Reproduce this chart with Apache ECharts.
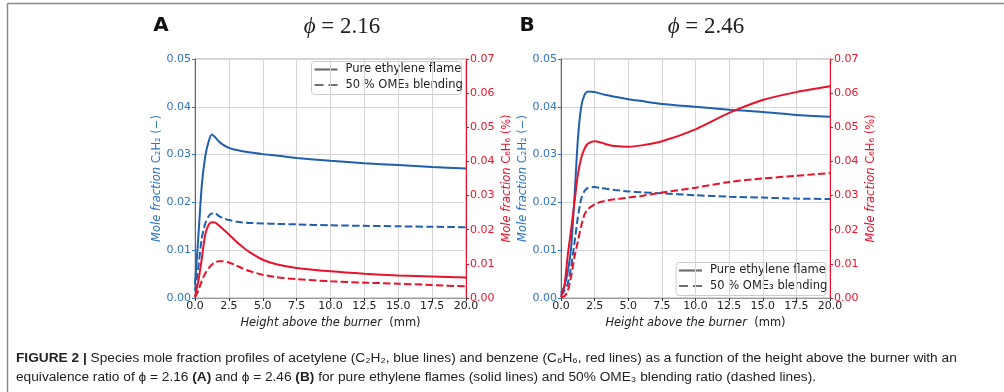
<!DOCTYPE html>
<html>
<head>
<meta charset="utf-8">
<script src="https://cdn.jsdelivr.net/npm/echarts@6/dist/echarts.min.js"></script>
<style>
  html, body { margin: 0; padding: 0; background: #fff; }
  #chart { width: 1004px; height: 392px; }
</style>
</head>
<body>
<div id="chart"></div>
<script>
// Height above the burner (mm), sample positions shared by all profiles
const heights = [0, 0.25, 0.5, 0.75, 1, 1.25, 1.5, 1.75, 2, 2.5, 3, 3.5, 4, 5, 6, 7.5, 10, 12.5, 15, 17.5, 20];

// Panel A, phi = 2.16
const c2h2PureA  = [0.0028, 0.013, 0.0235, 0.0295, 0.0327, 0.0342, 0.0336, 0.0328, 0.0322, 0.0314, 0.0310, 0.0307, 0.0305, 0.0301, 0.0298, 0.0293, 0.0287, 0.0282, 0.0278, 0.0274, 0.0271];
const c2h2BlendA = [0.0015, 0.0065, 0.0125, 0.0155, 0.0171, 0.0177, 0.0177, 0.0172, 0.0168, 0.0163, 0.0160, 0.0158, 0.0157, 0.0156, 0.0155, 0.0154, 0.0152, 0.0151, 0.0150, 0.0149, 0.0148];
const c6h6PureA  = [0.0003, 0.005, 0.0115, 0.0185, 0.0214, 0.0222, 0.0221, 0.0213, 0.0204, 0.0186, 0.0167, 0.0150, 0.0135, 0.0112, 0.0099, 0.0088, 0.0078, 0.0071, 0.0066, 0.0063, 0.0060];
const c6h6BlendA = [0.0002, 0.0022, 0.005, 0.0072, 0.0087, 0.0098, 0.0105, 0.0108, 0.0108, 0.0104, 0.0096, 0.0087, 0.0079, 0.0068, 0.0061, 0.0055, 0.0049, 0.0045, 0.0042, 0.0038, 0.0034];

// Panel B, phi = 2.46
const c2h2PureB  = [0.001, 0.0025, 0.0055, 0.0105, 0.021, 0.033, 0.040, 0.0425, 0.0432, 0.0431, 0.0427, 0.0424, 0.0421, 0.0416, 0.0412, 0.0406, 0.0400, 0.0394, 0.0389, 0.0383, 0.0379];
const c2h2BlendB = [0.0005, 0.0015, 0.003, 0.0065, 0.0115, 0.0168, 0.0207, 0.0224, 0.0230, 0.0232, 0.0230, 0.0228, 0.0226, 0.0223, 0.0221, 0.0219, 0.0215, 0.0212, 0.0210, 0.0208, 0.0207];
const c6h6PureB  = [0.0003, 0.0035, 0.0125, 0.020, 0.028, 0.036, 0.041, 0.0437, 0.0452, 0.0459, 0.0455, 0.0449, 0.0445, 0.0443, 0.0447, 0.0459, 0.0494, 0.0542, 0.0580, 0.0603, 0.0620];
const c6h6BlendB = [0.0002, 0.0005, 0.002, 0.0063, 0.012, 0.0165, 0.021, 0.0245, 0.026, 0.0274, 0.0282, 0.0286, 0.0289, 0.0294, 0.0299, 0.0309, 0.0323, 0.0340, 0.0350, 0.0358, 0.0366];

const legendNames = ['Pure ethylene flame', '50 % OME\u2083 blending'];

const BLUE = '#1f5fae';
const BLUE_TXT = '#2f74c0';
const RED = '#e8132b';
const GRIDC = '#d6d6d6';
const SANS = 'DejaVu Sans';
const DASH = [7.4, 3.2];
const CAPTION_FONT = '"Liberation Sans", Arial, sans-serif';

const pairs = ys => heights.map((h, i) => [h, ys[i]]);

function xAxisFor(grid) {
  return {
    type: 'value', gridIndex: grid, min: 0, max: 20, interval: 2.5,
    name: '{i|Height above the burner}  (mm)',
    nameLocation: 'middle', nameGap: 13,
    nameTextStyle: { fontFamily: SANS, fontSize: 11.5, color: '#222',
      rich: { i: { fontFamily: SANS, fontSize: 11.5, fontStyle: 'italic', color: '#222' } } },
    axisLine: { show: true, lineStyle: { color: '#999' } },
    axisTick: { show: true, length: 3, lineStyle: { color: '#333' } },
    axisLabel: { fontFamily: SANS, fontSize: 11, color: '#222', margin: 3,
      formatter: v => v.toFixed(1) },
    splitLine: { show: true, lineStyle: { color: GRIDC, width: 1 } }
  };
}
function leftAxis(grid) {
  return {
    type: 'value', gridIndex: grid, position: 'left', min: 0, max: 0.05, interval: 0.01,
    name: '{i|Mole fraction} C\u2082H\u2082 (\u2212)',
    nameLocation: 'middle', nameRotate: 90, nameGap: 25,
    nameTextStyle: { fontFamily: SANS, fontSize: 11.5, color: BLUE_TXT,
      rich: { i: { fontFamily: SANS, fontSize: 11.5, fontStyle: 'italic', color: BLUE_TXT } } },
    axisLine: { show: true, lineStyle: { color: BLUE_TXT } },
    axisTick: { show: true, length: 3, lineStyle: { color: BLUE_TXT } },
    axisLabel: { fontFamily: SANS, fontSize: 11, color: BLUE_TXT, margin: 4,
      formatter: v => v.toFixed(2) },
    splitLine: { show: true, lineStyle: { color: GRIDC, width: 1 } }
  };
}
function rightAxis(grid) {
  return {
    type: 'value', gridIndex: grid, position: 'right', min: 0, max: 0.07, interval: 0.01,
    name: '{i|Mole fraction} C\u2086H\u2086 (%)',
    nameLocation: 'middle', nameRotate: 90, nameGap: 35,
    nameTextStyle: { fontFamily: SANS, fontSize: 11.5, color: RED,
      rich: { i: { fontFamily: SANS, fontSize: 11.5, fontStyle: 'italic', color: RED } } },
    axisLine: { show: true, lineStyle: { color: RED } },
    axisTick: { show: true, length: 3, lineStyle: { color: RED } },
    axisLabel: { fontFamily: SANS, fontSize: 11, color: RED, margin: 4,
      formatter: v => v.toFixed(2) },
    splitLine: { show: false }
  };
}
function profile(name, ys, color, dashed, xi, yi) {
  return {
    type: 'line', name: name, data: pairs(ys), xAxisIndex: xi, yAxisIndex: yi,
    showSymbol: false, symbol: 'none', smooth: 0.25,
    lineStyle: { color: color, width: 2, type: dashed ? DASH : 'solid' },
    itemStyle: { color: color }, z: 3, silent: true
  };
}
// line-style key drawn as a boxed group
function legendGroup(left, top) {
  const w = 150, h = 33;
  return {
    type: 'group', x: left, y: top, z: 10, silent: true,
    children: [
      { type: 'rect', shape: { x: 0, y: 0, width: w, height: h, r: 3 },
        style: { fill: 'rgba(255,255,255,0.85)', stroke: '#cccccc', lineWidth: 1 } },
      { type: 'line', shape: { x1: 3, y1: 8, x2: 26, y2: 8 }, style: { stroke: '#6f6f6f', lineWidth: 2.2 } },
      { type: 'line', shape: { x1: 3, y1: 23.5, x2: 26, y2: 23.5 }, style: { stroke: '#6f6f6f', lineWidth: 2.2, lineDash: [9, 5] } },
      { type: 'text', x: 34, y: 8, style: { text: legendNames[0], font: '11.5px "DejaVu Sans"', fill: '#222', verticalAlign: 'middle' } },
      { type: 'text', x: 34, y: 23.5, style: { text: legendNames[1], font: '11.5px "DejaVu Sans"', fill: '#222', verticalAlign: 'middle' } }
    ]
  };
}

const chart = echarts.init(document.getElementById('chart'), null, { renderer: 'canvas' });

const option = {
  animation: false,
  backgroundColor: '#fff',
  grid: [
    { left: 195, right: 538, top: 59, bottom: 94, show: true, borderColor: '#a8a8a8', borderWidth: 1, backgroundColor: 'transparent' },
    { left: 561, right: 174, top: 59, bottom: 94, show: true, borderColor: '#a8a8a8', borderWidth: 1, backgroundColor: 'transparent' }
  ],
  xAxis: [xAxisFor(0), xAxisFor(1)],
  yAxis: [leftAxis(0), rightAxis(0), leftAxis(1), rightAxis(1)],
  series: [
    profile('C2H2 pure A', c2h2PureA, BLUE, false, 0, 0),
    profile('C2H2 blend A', c2h2BlendA, BLUE, true, 0, 0),
    profile('C6H6 pure A', c6h6PureA, RED, false, 0, 1),
    profile('C6H6 blend A', c6h6BlendA, RED, true, 0, 1),
    profile('C2H2 pure B', c2h2PureB, BLUE, false, 1, 2),
    profile('C2H2 blend B', c2h2BlendB, BLUE, true, 1, 2),
    profile('C6H6 pure B', c6h6PureB, RED, false, 1, 3),
    profile('C6H6 blend B', c6h6BlendB, RED, true, 1, 3)
  ],
  graphic: [
    // figure frame (top and left rules)
    { type: 'line', shape: { x1: 7.5, y1: 3.5, x2: 1004, y2: 3.5 }, style: { stroke: '#8a8a8a', lineWidth: 1.5 }, silent: true },
    { type: 'line', shape: { x1: 7.5, y1: 3.5, x2: 7.5, y2: 392 }, style: { stroke: '#8a8a8a', lineWidth: 1.5 }, silent: true },
    legendGroup(311.5, 61.5),
    legendGroup(676, 262.5),
    // panel letters and titles
    { type: 'text', x: 161, y: 26, style: { text: 'A', font: 'bold 20px "DejaVu Sans"', fill: '#111', align: 'center', verticalAlign: 'middle' } },
    { type: 'text', x: 527, y: 26, style: { text: 'B', font: 'bold 20px "DejaVu Sans"', fill: '#111', align: 'center', verticalAlign: 'middle' } },
    { type: 'text', x: 342, y: 27, style: {
        text: '{p|\u03d5} = 2.16', fontFamily: 'Liberation Serif', fontSize: 23, fill: '#222', align: 'center', verticalAlign: 'middle',
        rich: { p: { fontFamily: 'Liberation Serif', fontStyle: 'italic', fontSize: 23, fill: '#222' } } } },
    { type: 'text', x: 706, y: 27, style: {
        text: '{p|\u03d5} = 2.46', fontFamily: 'Liberation Serif', fontSize: 23, fill: '#222', align: 'center', verticalAlign: 'middle',
        rich: { p: { fontFamily: 'Liberation Serif', fontStyle: 'italic', fontSize: 23, fill: '#222' } } } },
    // caption
    { type: 'text', x: 16, y: 358, style: {
        text: '{b|FIGURE 2 |} Species mole fraction profiles of acetylene (C\u2082H\u2082, blue lines) and benzene (C\u2086H\u2086, red lines) as a function of the height above the burner with an',
        fontFamily: CAPTION_FONT, fontSize: 13.7, fill: '#222', verticalAlign: 'middle',
        rich: { b: { fontFamily: CAPTION_FONT, fontWeight: 'bold', fontSize: 13.7, fill: '#222' } } } },
    { type: 'text', x: 16, y: 377, style: {
        text: 'equivalence ratio of \u03d5 = 2.16 {b|(A)} and \u03d5 = 2.46 {b|(B)} for pure ethylene flames (solid lines) and 50% OME\u2083 blending ratio (dashed lines).',
        fontFamily: CAPTION_FONT, fontSize: 13.7, fill: '#222', verticalAlign: 'middle',
        rich: { b: { fontFamily: CAPTION_FONT, fontWeight: 'bold', fontSize: 13.7, fill: '#222' } } } }
  ]
};
chart.setOption(option);
</script>
</body>
</html>
